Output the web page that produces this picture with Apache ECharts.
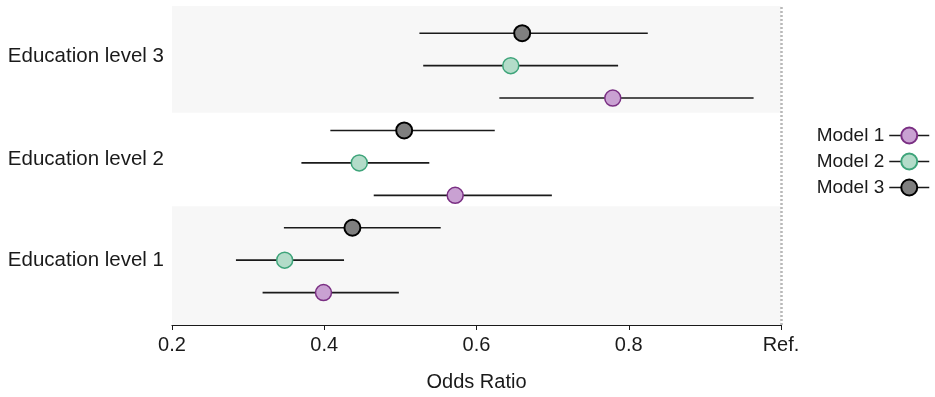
<!DOCTYPE html>
<html>
<head>
<meta charset="utf-8">
<script src="https://cdn.jsdelivr.net/npm/echarts@6/dist/echarts.min.js"></script>
<style>
  html, body { margin: 0; padding: 0; background: #fff; }
  #main { width: 935px; height: 397px; }
</style>
</head>
<body>
<div id="main"></div>
<script>
// groups from bottom to top
var groups = ['Education level 1', 'Education level 2', 'Education level 3'];
var models = ['Model 1', 'Model 2', 'Model 3'];

// odds ratio and 95% CI, one value per group
var or1 = [0.399, 0.572, 0.779];
var lo1 = [0.319, 0.465, 0.630];
var hi1 = [0.498, 0.699, 0.964];

var or2 = [0.348, 0.446, 0.645];
var lo2 = [0.284, 0.370, 0.530];
var hi2 = [0.426, 0.538, 0.786];

var or3 = [0.437, 0.505, 0.660];
var lo3 = [0.347, 0.408, 0.525];
var hi3 = [0.553, 0.624, 0.825];

var xTicks = [0.2, 0.4, 0.6, 0.8, 1.0];
var refValue = 1.0;

// layout (row units on the y axis)
var bandEdges = [0, 3.66, 6.55, 9.84];
var groupLabelAt = [2.0, 5.1, 8.3];

var fills = ['#c9a1d2', '#b3dcc9', '#7f7f7f'];
var strokes = ['#7a2f83', '#3ea47a', '#000000'];
var strokeW = [1.5, 1.5, 2];

var ors = [or1, or2, or3], los = [lo1, lo2, lo3], his = [hi1, hi2, hi3];

function rowOf(g, m) { return g * 3 + m + 1; }

var series = [];
models.forEach(function (name, m) {
    var pts = [], bars = [];
    groups.forEach(function (g, gi) {
        pts.push([ors[m][gi], rowOf(gi, m)]);
        bars.push([los[m][gi], his[m][gi], rowOf(gi, m)]);
    });
    // confidence interval whiskers
    series.push({
        name: name + ' CI',
        type: 'custom',
        z: 2,
        silent: true,
        data: bars,
        renderItem: function (params, api) {
            var a = api.coord([api.value(0), api.value(2)]);
            var b = api.coord([api.value(1), api.value(2)]);
            return {
                type: 'line',
                shape: { x1: a[0], y1: a[1], x2: b[0], y2: b[1] },
                style: { stroke: '#1a1a1a', lineWidth: 1.6 }
            };
        }
    });
    // point estimates (line series only for its legend icon, the line itself is hidden)
    series.push({
        name: name,
        type: 'line',
        z: 3,
        symbol: 'circle',
        symbolSize: 16,
        showSymbol: true,
        data: pts,
        lineStyle: { opacity: 0 },
        itemStyle: { color: fills[m], borderColor: strokes[m], borderWidth: strokeW[m], opacity: 1 }
    });
});

// background bands and reference line
series.push({
    name: 'bands',
    type: 'scatter',
    data: [],
    silent: true,
    markArea: {
        silent: true,
        data: [
            [{ yAxis: bandEdges[0], itemStyle: { color: '#f7f7f7' } }, { yAxis: bandEdges[1] }],
            [{ yAxis: bandEdges[2], itemStyle: { color: '#f7f7f7' } }, { yAxis: bandEdges[3] }]
        ]
    },
    markLine: {
        silent: true,
        symbol: 'none',
        label: { show: false },
        lineStyle: { type: [2, 2], color: '#b8b8b8', width: 2.5 },
        data: [{ xAxis: refValue }]
    }
});

var legendData = models.map(function (name) {
    return { name: name, lineStyle: { color: '#1a1a1a', width: 1.5, opacity: 1, type: 'solid' } };
});

var myChart = echarts.init(document.getElementById('main'));
var option = {
    animation: false,
    grid: { left: 172, right: 154, top: 6, bottom: 71.5 },
    legend: {
        data: legendData,
        orient: 'vertical',
        right: 5,
        top: 121,
        padding: [5, 0],
        align: 'right',
        itemWidth: 40,
        itemHeight: 20,
        itemGap: 7,
        textStyle: { fontSize: 19, color: '#1a1a1a', fontFamily: 'Liberation Sans' }
    },
    xAxis: {
        type: 'value',
        min: 0.2,
        max: 1.0,
        interval: 0.2,
        splitLine: { show: false },
        axisLine: { lineStyle: { color: '#1a1a1a', width: 1.2 } },
        axisTick: { length: 5, lineStyle: { color: '#1a1a1a' } },
        axisLabel: {
            fontSize: 20,
            margin: 10,
            color: '#1a1a1a',
            fontFamily: 'Liberation Sans',
            formatter: function (v) {
                if (Math.abs(v - refValue) < 1e-9) return 'Ref.';
                var i = xTicks.indexOf(Math.round(v * 10) / 10);
                return i >= 0 ? String(xTicks[i]) : '';
            }
        },
        name: 'Odds Ratio',
        nameLocation: 'middle',
        nameGap: 47,
        nameTextStyle: { fontSize: 20, color: '#1a1a1a', fontFamily: 'Liberation Sans' }
    },
    yAxis: {
        type: 'value',
        min: 0,
        max: bandEdges[3],
        splitLine: { show: false },
        axisLine: { show: false },
        axisTick: { show: false },
        axisLabel: {
            customValues: groupLabelAt,
            fontSize: 20.5,
            margin: 8,
            color: '#1a1a1a',
            fontFamily: 'Liberation Sans',
            formatter: function (v) {
                var i = groupLabelAt.indexOf(v);
                return i >= 0 ? groups[i] : '';
            }
        }
    },
    series: series
};
myChart.setOption(option);
</script>
</body>
</html>
